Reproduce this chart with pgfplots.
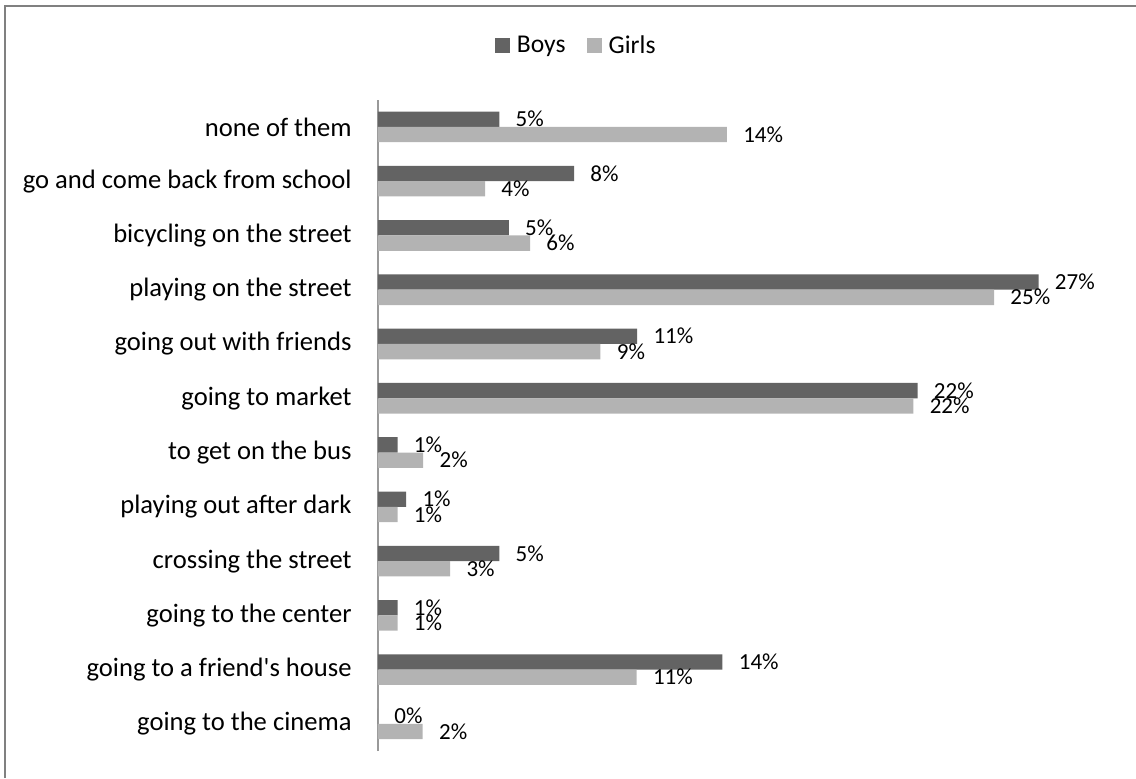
\documentclass[border=0pt]{standalone}
\usepackage{pgfplots}
\pgfplotsset{compat=1.18}
\usepackage{fontspec}
\setmainfont{Carlito}
\definecolor{boys}{HTML}{636363}
\definecolor{girls}{HTML}{B3B3B3}
\begin{document}
\begin{tikzpicture}
\useasboundingbox (0,0) rectangle (568pt,389pt);
\begin{axis}[
  at={(189pt,13.5pt)}, anchor=south west, scale only axis,
  width=366.7pt, height=325.6pt,
  xbar, bar width=7.65pt,
  xmin=0, xmax=30, ymin=-0.5, ymax=11.5,
  axis x line=none, axis y line*=left,
  y axis line style={draw=black!40, line width=0.9pt},
  ytick={0,...,11},
  yticklabels={going to the cinema, going to a friend\textquotesingle s house, going to the center, crossing the street, playing out after dark, to get on the bus, going to market, going out with friends, playing on the street, bicycling on the street, go and come back from school, none of them},
  major tick length=0pt,
  yticklabel style={font=\fontsize{13.3}{15}\selectfont, inner sep=0pt, xshift=-13pt},
  point meta=explicit symbolic,
  nodes near coords={\pgfplotspointmeta\%},
  every node near coord/.append style={font=\fontsize{11.5}{13}\selectfont, anchor=base west, inner sep=0pt, xshift=8pt, yshift=-3.8pt, text=black},
  legend columns=2,
  legend style={draw=none, at={(0.2715,1.083)}, anchor=center, font=\fontsize{12.8}{15}\selectfont, /tikz/every odd column/.append style={column sep=1.5pt}, /tikz/every even column/.append style={column sep=8.5pt}},
  legend image code/.code={\fill[#1] (0pt,-3.8pt) rectangle (7.6pt,3.8pt);},
]
\addplot[fill=boys, draw=none, bar shift=3.825pt] coordinates {
 (0,0) [0]
 (14.09,1) [14]
 (0.8,2) [1]
 (4.96,3) [5]
 (1.15,4) [1]
 (0.8,5) [1]
 (22.07,6) [22]
 (10.6,7) [11]
 (27.02,8) [27]
 (5.35,9) [5]
 (8.02,10) [8]
 (4.96,11) [5]
};
\addplot[fill=girls, draw=none, bar shift=-3.825pt] coordinates {
 (1.83,0) [2]
 (10.58,1) [11]
 (0.8,2) [1]
 (2.95,3) [3]
 (0.8,4) [1]
 (1.85,5) [2]
 (21.9,6) [22]
 (9.1,7) [9]
 (25.2,8) [25]
 (6.22,9) [6]
 (4.38,10) [4]
 (14.27,11) [14]
};
\legend{Boys, Girls}
\end{axis}
\draw[black!50, line width=1pt] (2.5pt,0) -- (2.5pt,385.8pt) -- (568pt,385.8pt);
\end{tikzpicture}
\end{document}
